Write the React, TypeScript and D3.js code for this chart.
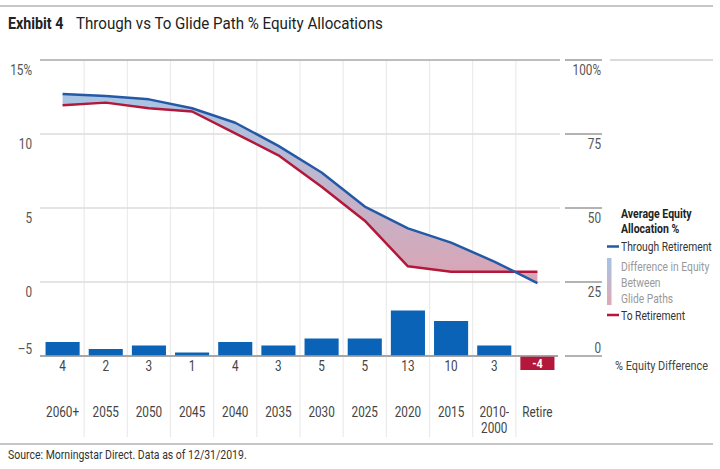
import React from "react";
import * as d3 from "d3";

const categories = ["2060+", "2055", "2050", "2045", "2040", "2035", "2030", "2025", "2020", "2015", "2010-2000", "Retire"];
const throughRetirement = [88.5, 87.8, 86.7, 83.7, 78.8, 71.0, 62.0, 50.5, 43.1, 38.3, 31.9, 24.6];
const toRetirement = [84.7, 85.6, 83.7, 82.6, 75.2, 67.8, 57.2, 45.7, 30.3, 28.5, 28.5, 28.5];
const equityDifference = [4, 2, 3, 1, 4, 3, 5, 5, 13, 10, 3, -4];
const leftTicks = [-5, 0, 5, 10, 15];
const rightTicks = [0, 25, 50, 75, 100];

const FONT = "Roboto, 'Noto Sans', sans-serif";
const BLUE = "#2459a6";
const RED = "#b3173a";
const BAR = "#0a63b6";
const SX = 0.84;
const LSX = 0.81;

function T(props: any) {
  const { x, y, sx = SX, anchor = "start", children, ...rest } = props;
  return (
    <text transform={`translate(${x},${y}) scale(${sx},1)`} textAnchor={anchor} {...rest}>
      {children}
    </text>
  );
}

export default function App() {
  const W = 720, H = 469;
  const x = d3.scaleBand<string>().domain(categories).range([41, 559]).paddingInner(0.21).paddingOuter(0.105);
  const step = x.step();
  const yLeft = d3.scaleLinear().domain([-5, 15]).range([356, 60]);
  const yRight = d3.scaleLinear().domain([0, 100]).range([356, 60]);
  const barH = d3.scaleLinear().domain([0, 13]).range([0, 45.5]);
  const cx = (c: string) => (x(c) ?? 0) + x.bandwidth() / 2;

  const pts = categories.map((c, i) => ({ c, t: throughRetirement[i], r: toRetirement[i] }));
  const lineT = d3.line<any>().x((d) => cx(d.c)).y((d) => yRight(d.t));
  const lineR = d3.line<any>().x((d) => cx(d.c)).y((d) => yRight(d.r));
  const area = d3.area<any>().x((d) => cx(d.c)).y0((d) => yRight(d.r)).y1((d) => yRight(d.t));

  const base = yRight(0);

  return (
    <svg width={W} height={H} style={{ position: "absolute", left: 0, top: 0, fontFamily: FONT }}>
      <defs>
        <linearGradient id="areaGrad" gradientUnits="userSpaceOnUse" x1="0" y1="90" x2="0" y2="290">
          <stop offset="0" stopColor="#a8c6e6" />
          <stop offset="1" stopColor="#dca3b2" />
        </linearGradient>
        <linearGradient id="legGrad" x1="0" y1="0" x2="0" y2="1">
          <stop offset="0" stopColor="#a3c4e6" />
          <stop offset="1" stopColor="#e0a8b5" />
        </linearGradient>
      </defs>
      <rect width={W} height={H} fill="#fff" />
      {/* top and bottom rules */}
      <line x1={0} x2={713} y1={6} y2={6} stroke="#b5b5b5" strokeWidth={1.5} />
      <line x1={0} x2={713} y1={444} y2={444} stroke="#b5b5b5" strokeWidth={1.5} />

      {/* title */}
      <T x={8} y={29} fontSize={17} fill="#222" fontWeight="bold">Exhibit 4</T>
      <T x={76} y={29} fontSize={17} fill="#222" sx={0.89}>Through vs To Glide Path % Equity Allocations</T>

      {/* vertical gridlines */}
      {d3.range(1, categories.length).map((k) => (
        <line key={"v" + k} x1={41 + k * step} x2={41 + k * step} y1={60} y2={437} stroke="#ebebeb" strokeWidth={1.2} />
      ))}

      {/* horizontal gridlines */}
      {leftTicks.map((t) => (
        <line key={"h" + t} x1={40} x2={t === -5 ? 558 : 560} y1={yLeft(t)} y2={yLeft(t)}
          stroke={t === 15 ? "#a8a8a8" : t === -5 ? "#a0a0a0" : "#dcdcdc"} strokeWidth={1.5} />
      ))}
      <line x1={610} x2={713} y1={yLeft(15)} y2={yLeft(15)} stroke="#cfcfcf" strokeWidth={1.5} />

      {/* left axis labels */}
      {leftTicks.map((t) => (
        <T key={"l" + t} x={32} y={t === -5 ? yLeft(t) - 2 : yLeft(t) + 15} anchor="end" fontSize={14} fill="#555">
          {t === 15 ? "15%" : t < 0 ? "\u2013" + Math.abs(t) : String(t)}
        </T>
      ))}

      {/* right axis */}
      {rightTicks.map((t) => (
        <g key={"r" + t}>
          <line x1={565} x2={602} y1={yRight(t)} y2={yRight(t)} stroke="#9a9a9a" strokeWidth={1.3} />
          <T x={601} y={t === 0 ? yRight(t) - 3 : yRight(t) + 15} anchor="end" fontSize={14} fill="#555">
            {t === 100 ? "100%" : String(t)}
          </T>
        </g>
      ))}

      {/* area between glide paths */}
      <path d={area(pts) ?? ""} fill="url(#areaGrad)" />
      <path d={lineR(pts) ?? ""} fill="none" stroke={RED} strokeWidth={2.5} strokeLinejoin="round" />
      <path d={lineT(pts) ?? ""} fill="none" stroke={BLUE} strokeWidth={2.5} strokeLinejoin="round" />

      {/* bars */}
      {categories.map((c, i) => {
        const v = equityDifference[i];
        const h = barH(Math.abs(v));
        const bx = x(c) ?? 0;
        return v >= 0 ? (
          <g key={"b" + c}>
            <rect x={bx} y={base - h} width={x.bandwidth()} height={h} fill={BAR} />
            <T x={cx(c)} y={base + 15} anchor="middle" fontSize={14} fill="#444">{v}</T>
          </g>
        ) : (
          <g key={"b" + c}>
            <rect x={bx} y={base} width={x.bandwidth()} height={h} fill={RED} />
            <T x={cx(c)} y={base + 11.5} anchor="middle" fontSize={13} fontWeight="bold" fill="#fff">{v}</T>
          </g>
        );
      })}
      <line x1={40} x2={558} y1={base} y2={base} stroke="#a0a0a0" strokeWidth={1.5} />

      {/* category labels */}
      {categories.map((c) => {
        const parts = c === "2010-2000" ? ["2010-", "2000"] : [c];
        return parts.map((p, j) => (
          <T key={"c" + c + j} x={cx(c)} y={416.5 + j * 16.5} anchor="middle" fontSize={14} fill="#444">{p}</T>
        ));
      })}

      {/* legend */}
      <T x={621} y={218} sx={LSX} fontSize={13} fontWeight="bold" fill="#222">Average Equity</T>
      <T x={621} y={233} sx={LSX} fontSize={13} fontWeight="bold" fill="#222">Allocation %</T>
      <line x1={607} x2={619} y1={246.5} y2={246.5} stroke={BLUE} strokeWidth={2.5} />
      <T x={621} y={251} sx={LSX} fontSize={12.7} fill="#333">Through Retirement</T>
      <rect x={607} y={258} width={4.5} height={47} fill="url(#legGrad)" />
      <T x={621} y={270.5} sx={LSX} fontSize={12.7} fill="#999">Difference in Equity</T>
      <T x={621} y={286.5} sx={LSX} fontSize={12.7} fill="#999">Between</T>
      <T x={621} y={302.5} sx={LSX} fontSize={12.7} fill="#999">Glide Paths</T>
      <line x1={607} x2={619} y1={315} y2={315} stroke={RED} strokeWidth={2.5} />
      <T x={621} y={319.5} sx={LSX} fontSize={12.7} fill="#333">To Retirement</T>
      <T x={615} y={369.5} fontSize={13} fill="#444">% Equity Difference</T>

      {/* source */}
      <T x={8} y={459} fontSize={12.5} fill="#333">Source: Morningstar Direct. Data as of 12/31/2019.</T>
    </svg>
  );
}
